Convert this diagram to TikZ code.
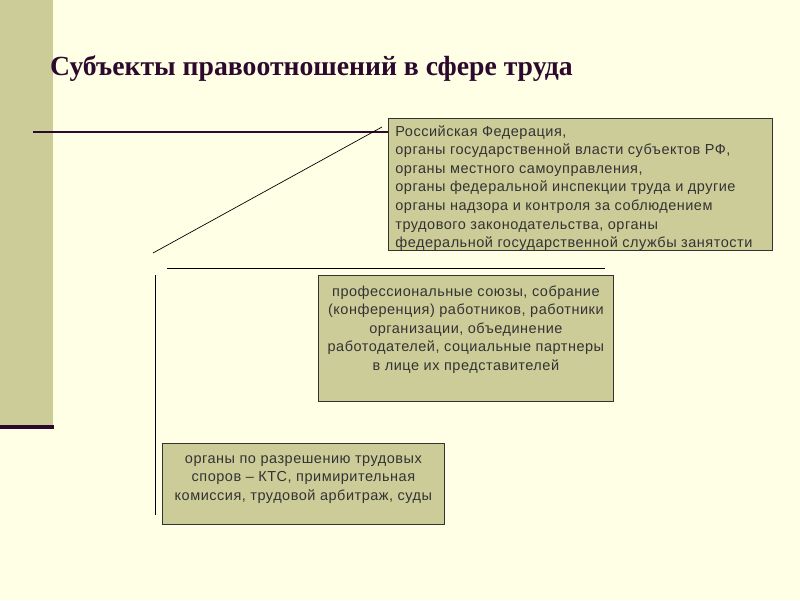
\documentclass[tikz,border=0pt]{standalone}
\usepackage{fontspec}
\setmainfont{Liberation Serif}
\newfontfamily\boxfont[LetterSpace=3.5]{Liberation Sans}
\definecolor{cream}{RGB}{255,255,229}
\definecolor{olive}{RGB}{204,204,153}
\definecolor{plum}{RGB}{45,10,45}
\definecolor{boxtext}{RGB}{51,51,51}
\begin{document}
\begin{tikzpicture}[x=1pt, y=-1pt,
        box/.style={draw=black!80, fill=olive, line width=0.8pt, inner xsep=7pt,
                text=boxtext, font=\boxfont\fontsize{14.5}{18.6}\selectfont},
        rule/.style={draw=plum, line width=2.5pt},
        thin line/.style={draw=black, line width=0.7pt}]
                \useasboundingbox (0,0) rectangle (800,600);
                \fill[cream] (0,0) rectangle (800,600);
                \fill[olive] (0,0) rectangle (53,426);
                \draw[rule, line width=3.5pt] (0,427) -- (54,427);

                \node[anchor=base west, inner sep=0pt, text=plum, font=\bfseries\fontsize{27.7}{32}\selectfont] (title) at (50,75) {Субъекты правоотношений в сфере труда};

                % state bodies
                \node[box, anchor=north west, inner ysep=7pt] (state) at (388,118) {\parbox[t][118pt][t]{370pt}{\raggedright
                        Российская Федерация,\\
                        органы государственной власти субъектов РФ,\\
                        органы местного самоуправления,\\
                        органы федеральной инспекции труда и другие\\
                        органы надзора и контроля за соблюдением\\
                        трудового законодательства, органы\\
                        федеральной государственной службы занятости}};
                % social partners
                \node[box, anchor=north west, inner ysep=10pt] (social) at (318,275) {\parbox[t][106pt][t]{281pt}{\centering
                        профессиональные союзы, собрание\\
                        (конференция) работников, работники\\
                        организации, объединение\\
                        работодателей, социальные партнеры\\
                        в лице их представителей}};
                % dispute bodies
                \node[box, anchor=north west, inner ysep=12pt] (dispute) at (162,443) {\parbox[t][57pt][t]{268pt}{\centering
                        органы по разрешению трудовых\\
                        споров – КТС, примирительная\\
                        комиссия, трудовой арбитраж, суды}};

                \coordinate (rulestart) at (33,132);
                \coordinate (diagfoot) at (153,253);
                \coordinate (diagtop) at (382,127);
                \coordinate (midleft) at (167,268);
                \coordinate (midright) at (605,268);
                \coordinate (vtop) at (155,275);
                \coordinate (vbottom) at (155,515);

                \draw[rule] (rulestart) -- (rulestart -| state.west);
                \draw[thin line] (diagfoot) -- (diagtop);
                \draw[thin line] (midleft) -- (midright);
                \draw[thin line] (vtop) -- (vbottom);
            \end{tikzpicture}
\end{document}
